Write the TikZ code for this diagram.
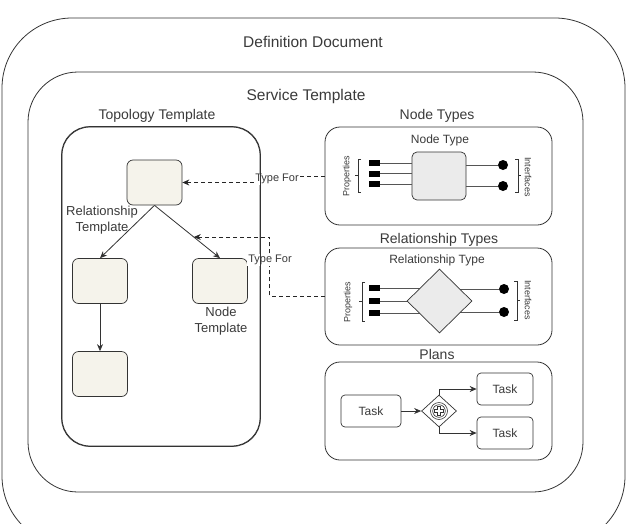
\documentclass[tikz,border=0pt]{standalone}
\usepackage{fontspec}
\setmainfont{Liberation Sans}
\usetikzlibrary{arrows.meta,shapes.geometric,calc}
\definecolor{ln}{HTML}{333333}
\definecolor{tx}{HTML}{3A3A3A}
\definecolor{beige}{HTML}{F5F3EB}
\definecolor{lgray}{HTML}{EBEBEB}
\definecolor{pl}{HTML}{555555}
\begin{document}
\begin{tikzpicture}[x=1pt,y=-1pt,
  every node/.style={text=tx, inner sep=0pt},
  cont/.style={draw=ln, line width=0.8pt},
  tmpl/.style={draw=ln, line width=0.7pt, fill=beige, rounded corners=6, minimum width=55, minimum height=45},
  taskbox/.style={draw=ln, line width=0.7pt, fill=white, rounded corners=4, minimum height=32, font=\fontsize{12}{14}\selectfont},
  bigtitle/.style={font=\fontsize{15.5}{18}\selectfont},
  sectitle/.style={font=\fontsize{14}{16}\selectfont},
  subtitle/.style={font=\fontsize{12}{14}\selectfont},
  arr/.style={draw=ln, line width=0.8pt, -{Stealth[length=7pt,width=6pt]}},
  dasharr/.style={draw=black!85, line width=0.9pt, dash pattern=on 4pt off 3pt, -{Stealth[length=7pt,width=6pt]}},
  tlabel/.style={font=\fontsize{11}{13}\selectfont, fill=white, inner sep=1pt},
  propsq/.style={fill=black, minimum width=11, minimum height=6},
  ifc/.style={circle, fill=black, minimum size=10},
  pline/.style={draw=pl, line width=0.8pt},
  brk/.style={draw=ln, line width=0.6pt},
  small/.style={font=\fontsize{9}{10}\selectfont}]
\useasboundingbox (0,0) rectangle (630,523);
\clip (0,0) rectangle (630,523);

% containers
\node[cont, rounded corners=70, minimum width=623, minimum height=528] (outer) at (313.5,282) {};
\node[bigtitle] (deflabel) at (313,42) {Definition Document};
\node[cont, rounded corners=50, minimum width=555, minimum height=420] (service) at (305.5,282) {};
\node[bigtitle] (servlabel) at (306,96) {Service Template};
\node[cont, rounded corners=28, minimum width=198, minimum height=319] (topo) at (161,286.5) {};
\node[sectitle] (topolabel) at (157,116) {Topology Template};
\node[cont, rounded corners=15, minimum width=227, minimum height=98] (ntbox) at (438.5,176) {};
\node[sectitle] (ntlabel) at (437,116) {Node Types};
\node[cont, rounded corners=15, minimum width=227, minimum height=97] (rtbox) at (438.5,296.5) {};
\node[sectitle] (rtlabel) at (439,240) {Relationship Types};
\node[cont, rounded corners=15, minimum width=227, minimum height=98] (plbox) at (438.5,411) {};
\node[sectitle] (pllabel) at (437,354) {Plans};

% topology template
\node[tmpl] (top) at (154.5,182.5) {};
\node[tmpl] (left) at (100,281) {};
\node[tmpl] (right) at (220,281) {};
\node[tmpl] (bottom) at (100,374) {};
\draw[arr] (top.south) -- (left.north);
\draw[arr] (top.south) -- (right.north);
\draw[arr] (left.south) -- (bottom.north);
\node[font=\fontsize{13}{16}\selectfont, align=center] (rtmpl) at (102,220) {Relationship\\Template};
\node[font=\fontsize{13}{16}\selectfont, align=center] (ntmpl) at (221,321) {Node\\Template};

% type-for connectors
\coordinate (e2) at ($(top.south)!0.6!(right.north)$);
\draw[dasharr] (ntbox.west) -- (272,176) -- (272,182.5) -- (top.east);
\draw[dasharr] (rtbox.west) -| ($(e2)+(76,0)$) -- (e2);
\node[tlabel] (tf1) at (277,179) {Type For};
\node[tlabel] (tf2) at (270,260) {Type For};
\draw[cont, rounded corners=28] (topo.south west) rectangle (topo.north east);

% node types
\node[subtitle] (ntype) at (440,140) {Node Type};
\node[draw=ln, line width=0.7pt, fill=lgray, rounded corners=5, minimum width=54, minimum height=48] (nt) at (439,176) {};
\node[propsq] (p1) at (374.5,163) {};
\node[propsq] (p2) at (374.5,173.5) {};
\node[propsq] (p3) at (374.5,184) {};
\node[ifc] (i1) at (503,165) {};
\node[ifc] (i2) at (503,186) {};
\draw[pline] (p1.east) -- (p1.east -| nt.west);
\draw[pline] (p2.east) -- (p2.east -| nt.west);
\draw[pline] (p3.east) -- (p3.east -| nt.west);
\draw[pline] (i1 -| nt.east) -- (i1);
\draw[pline] (i2 -| nt.east) -- (i2);
\draw[brk] (361,159) -- (358,159) -- (358,192) -- (361,192) (358,175.5) -- (355,175.5);
\draw[brk] (515,159) -- (518,159) -- (518,192) -- (515,192) (518,175.5) -- (521,175.5);
\node[small, rotate=90] (prop1) at (347,176) {Properties};
\node[small, rotate=-90] (ifc1) at (528,177) {Interfaces};

% relationship types
\node[subtitle] (rtype) at (437,260) {Relationship Type};
\coordinate (rdc) at (439.5,301);
\node[propsq] (p4) at (374.5,288) {};
\node[propsq] (p5) at (374.5,301) {};
\node[propsq] (p6) at (374.5,313) {};
\node[ifc] (i3) at (504,289) {};
\node[ifc] (i4) at (504,312) {};
\draw[pline] (p4.east) -- (p4.east -| rdc);
\draw[pline] (p5.east) -- (p5.east -| rdc);
\draw[pline] (p6.east) -- (p6.east -| rdc);
\draw[pline] (i3 -| rdc) -- (i3);
\draw[pline] (i4 -| rdc) -- (i4);
\node[diamond, draw=ln, line width=0.7pt, fill=lgray, minimum width=65, minimum height=64] (rd) at (rdc) {};
\draw[brk] (365,282) -- (362,282) -- (362,321) -- (365,321) (362,301.5) -- (359,301.5);
\draw[brk] (514,281) -- (517,281) -- (517,320) -- (514,320) (517,300.5) -- (520,300.5);
\node[small, rotate=90] (prop2) at (348,302) {Properties};
\node[small, rotate=-90] (ifc2) at (528,300) {Interfaces};

% plans
\node[taskbox, minimum width=60] (t1) at (371,411) {Task};
\node[diamond, draw=ln, line width=0.7pt, fill=white, minimum width=35, minimum height=32] (gw) at (439,411) {};
\draw[ln, line width=0.6pt] (gw) circle (8.5);
\draw[ln, line width=0.6pt] (gw) circle (6.3);
\draw[ln, line width=0.6pt, shift={(gw)}] (-1.4,-4.3) -- (1.4,-4.3) -- (1.4,-1.4) -- (4.3,-1.4) -- (4.3,1.4) -- (1.4,1.4) -- (1.4,4.3) -- (-1.4,4.3) -- (-1.4,1.4) -- (-4.3,1.4) -- (-4.3,-1.4) -- (-1.4,-1.4) -- cycle;
\node[taskbox, minimum width=56] (t2) at (505,389) {Task};
\node[taskbox, minimum width=56] (t3) at (505,433) {Task};
\draw[arr] (t1) -- (gw);
\draw[arr] (gw.north) |- (t2.west);
\draw[arr] (gw.south) |- (t3.west);
\end{tikzpicture}
\end{document}
